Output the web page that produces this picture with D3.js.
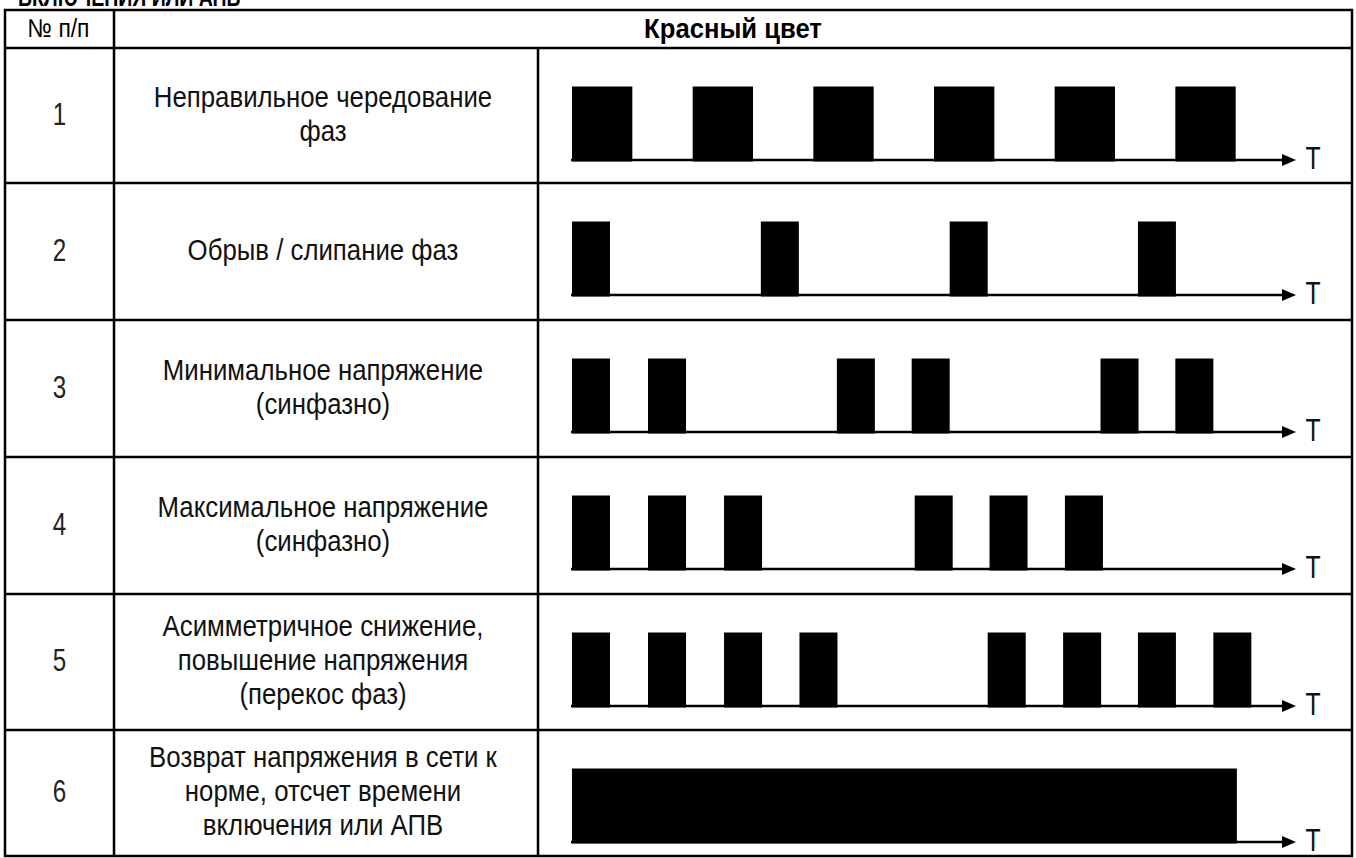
<!DOCTYPE html>
<html>
<head>
<meta charset="utf-8">
<script src="https://cdn.jsdelivr.net/npm/d3@7"></script>
<style>
  body { margin: 0; background: #fff; }
  svg { display: block; }
</style>
</head>
<body>
<div id="chart"></div>
<script>
// table content
var headerNum = "№ п/п";
var headerColor = "Красный цвет";
var cutTitle = "ВКЛЮЧЕНИЯ ИЛИ АПВ";
var rowNumbers = ["1", "2", "3", "4", "5", "6"];
var rowLabels = [
    ["Неправильное чередование", "фаз"],
    ["Обрыв / слипание фаз"],
    ["Минимальное напряжение", "(синфазно)"],
    ["Максимальное напряжение", "(синфазно)"],
    ["Асимметричное снижение,", "повышение напряжения", "(перекос фаз)"],
    ["Возврат напряжения в сети к", "норме, отсчет времени", "включения или АПВ"]
];

// pulse start times (time units) and pulse width per row
var pulses1 = [0, 2, 4, 6, 8, 10];
var pulses2 = [0, 3.13, 6.26, 9.38];
var pulses3 = [0, 1.26, 4.39, 5.63, 8.76, 10.0];
var pulses4 = [0, 1.26, 2.52, 5.68, 6.92, 8.17];
var pulses5 = [0, 1.26, 2.52, 3.77, 6.89, 8.14, 9.38, 10.63];
var pulses6 = [0];
var pulseStarts = [pulses1, pulses2, pulses3, pulses4, pulses5, pulses6];
var pulseWidths = [1, 0.63, 0.63, 0.63, 0.63, 11.02];
var timeMax = 12;
var axisLabel = "T";

function init() {
    var w = 1356, h = 858;

    var left = 5, right = 1352, top = 10;
    var col1 = 114, col2 = 538;
    var headerBottom = 48;
    var rowH = [135, 137, 137, 137, 136, 126];
    var rowTops = [];
    var acc = headerBottom;
    rowH.forEach(function (r) { rowTops.push(acc); acc += r; });
    var bottom = acc;

    var svg = d3.select("#chart")
        .append("svg")
        .attr("width", w)
        .attr("height", h);

    var font = "'Liberation Sans', Arial, sans-serif";

    // heading above the table, cut off by the page edge as in the source
    svg.append("text")
        .attr("transform", "translate(18,6) scale(0.78,1)")
        .attr("font-family", font)
        .attr("font-weight", "bold")
        .attr("font-size", 25)
        .text(cutTitle);

    var xScale = d3.scaleLinear()
        .domain([0, timeMax])
        .range([572, 1296]);

    var lineH = 34;

    // headers
    svg.append("text")
        .attr("transform", "translate(" + ((left + col1) / 2 - 1) + ",37) scale(0.88,1)")
        .attr("text-anchor", "middle")
        .attr("font-family", font)
        .attr("font-size", 26)
        .text(headerNum);

    svg.append("text")
        .attr("transform", "translate(" + ((col1 + right) / 2) + ",38) scale(0.95,1)")
        .attr("text-anchor", "middle")
        .attr("font-family", font)
        .attr("font-weight", "bold")
        .attr("font-size", 27)
        .text(headerColor);

    rowNumbers.forEach(function (num, i) {
        var y0 = rowTops[i];
        var cy = y0 + rowH[i] / 2;

        svg.append("text")
            .attr("transform", "translate(" + ((left + col1) / 2) + "," + (cy + 9) + ") scale(0.78,1)")
            .attr("text-anchor", "middle")
            .attr("font-family", font)
            .attr("font-size", 31)
            .attr("fill", "#222")
            .text(num);

        var lines = rowLabels[i];
        lines.forEach(function (t, j) {
            var by = cy + (j - (lines.length - 1) / 2) * lineH + 8;
            svg.append("text")
                .attr("transform", "translate(" + ((col1 + col2) / 2 - 3) + "," + by + ") scale(0.86,1)")
                .attr("text-anchor", "middle")
                .attr("font-family", font)
                .attr("font-size", 30)
                .attr("fill", "#111")
                .text(t);
        });

        // pulse diagram
        var base = y0 + 112;
        var yScale = d3.scaleLinear().domain([0, 1]).range([base + 1.5, base - 73.5]);
        var g = svg.append("g");

        g.selectAll("rect")
            .data(pulseStarts[i])
            .enter()
            .append("rect")
            .attr("x", function (d) { return xScale(d); })
            .attr("y", yScale(1))
            .attr("width", function (d) { return xScale(d + pulseWidths[i]) - xScale(d); })
            .attr("height", yScale(0) - yScale(1))
            .attr("fill", "#000");

        var tip = xScale(timeMax);
        g.append("line")
            .attr("x1", xScale(0) - 1)
            .attr("x2", tip - 10)
            .attr("y1", base)
            .attr("y2", base)
            .attr("stroke", "#000")
            .attr("stroke-width", 2.5);

        g.append("path")
            .attr("d", "M" + tip + "," + base + "L" + (tip - 14) + "," + (base - 6) +
                "L" + (tip - 14) + "," + (base + 6) + "Z")
            .attr("fill", "#000");

        g.append("text")
            .attr("transform", "translate(" + (tip + 17) + "," + (base + 9) + ") scale(0.8,1)")
            .attr("text-anchor", "middle")
            .attr("font-family", font)
            .attr("font-size", 31)
            .attr("fill", "#111")
            .text(axisLabel);
    });

    // table grid
    var grid = svg.append("g")
        .attr("stroke", "#000")
        .attr("stroke-width", 2.5)
        .attr("fill", "none");

    grid.append("rect")
        .attr("x", left)
        .attr("y", top)
        .attr("width", right - left)
        .attr("height", bottom - top);

    grid.append("line").attr("x1", col1).attr("x2", col1).attr("y1", top).attr("y2", bottom);
    grid.append("line").attr("x1", col2).attr("x2", col2).attr("y1", headerBottom).attr("y2", bottom);

    rowTops.forEach(function (y) {
        grid.append("line").attr("x1", left).attr("x2", right).attr("y1", y).attr("y2", y);
    });
}

window.onload = init;
</script>
</body>
</html>
